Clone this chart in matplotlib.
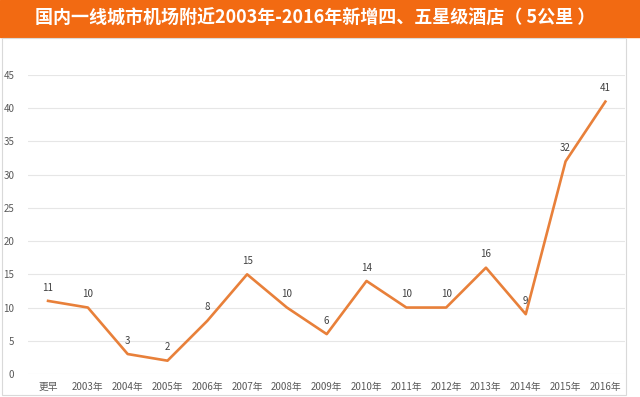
import matplotlib.pyplot as plt
from matplotlib.patches import Rectangle

plt.rcParams['font.family'] = ['Noto Sans CJK SC', 'DejaVu Sans']

categories = ["更早", "2003年", "2004年", "2005年", "2006年", "2007年", "2008年", "2009年",
              "2010年", "2011年", "2012年", "2013年", "2014年", "2015年", "2016年"]
hotels = [11, 10, 3, 2, 8, 15, 10, 6, 14, 10, 10, 16, 9, 32, 41]

fig = plt.figure(figsize=(6.4, 3.97), dpi=100)

# orange title band
fig.patches.append(Rectangle((0, 0.907), 1, 0.093, transform=fig.transFigure,
                             color="#F26A12", zorder=0))
fig.text(0.492, 0.953, "国内一线城市机场附近2003年-2016年新增四、五星级酒店（ 5公里 ）",
         color="white", fontsize=13, fontweight="bold", ha="center", va="center")

# thin frame around the chart
fig.patches.append(Rectangle((0.003, 0.004), 0.975, 0.9, transform=fig.transFigure,
                             fill=False, edgecolor="#D9D9D9", linewidth=0.8))

ax = fig.add_axes([0.044, 0.058, 0.933, 0.753])
x = list(range(len(categories)))
ax.plot(x, hotels, color="#E8803A", linewidth=1.9)

for xi, v in zip(x, hotels):
    ax.annotate(str(v), (xi, v), textcoords="offset points", xytext=(0, 6),
                ha="center", va="bottom", fontsize=7, color="#404040")

ax.set_xlim(-0.5, len(categories) - 0.5)
ax.set_ylim(0, 45)
ax.set_yticks(range(0, 46, 5))
ax.set_xticks(x)
ax.set_xticklabels(categories)
ax.tick_params(axis="x", length=0, labelsize=7, labelcolor="#595959", pad=6)
ax.tick_params(axis="y", length=0, labelsize=7, labelcolor="#595959", pad=10)
ax.grid(axis="y", color="#E6E6E6", linewidth=0.8)
ax.set_axisbelow(True)
for s in ax.spines.values():
    s.set_visible(False)

plt.savefig("out.png", dpi=100)
